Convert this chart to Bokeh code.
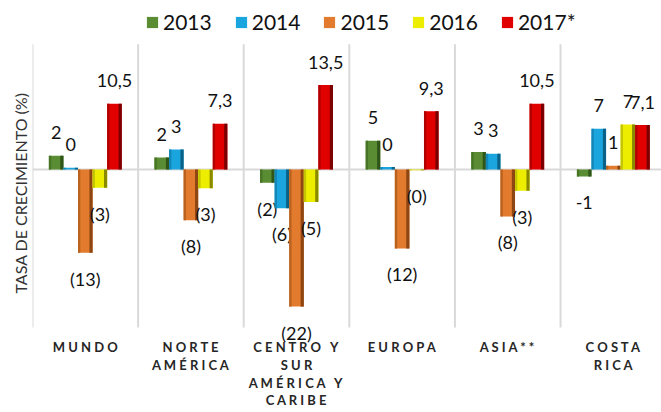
import numpy as np
from bokeh.plotting import figure
from bokeh.models import ColumnDataSource, Range1d, Legend, LegendItem, Span, Title
from bokeh.transform import dodge
from bokeh.core.properties import value
from bokeh.embed import file_html
from bokeh.resources import INLINE

# ---------------- data ----------------
categories = ["MUNDO", "NORTE AMÉRICA", "CENTRO Y SUR AMÉRICA Y CARIBE", "EUROPA", "ASIA**", "COSTA RICA"]
tick_labels = [
    "M U N D O",
    "N O R T E\nA M É R I C A",
    "C E N T R O \u00a0 Y\nS U R\nA M É R I C A \u00a0 Y\nC A R I B E",
    "E U R O P A",
    "A S I A * *",
    "C O S T A\nR I C A",
]
years = ["2013", "2014", "2015", "2016", "2017*"]

v2013 = [2.2, 1.9, -2.1, 4.6, 2.8, -1.1]
v2014 = [0.3, 3.2, -6.2, 0.4, 2.5, 6.5]
v2015 = [-13.3, -8.1, -21.9, -12.6, -7.5, 0.6]
v2016 = [-2.9, -3.0, -5.2, -0.1, -3.4, 7.2]
v2017 = [10.5, 7.3, 13.5, 9.3, 10.5, 7.1]

l2013 = ["2", "2", "(2)", "5", "3", "-1"]
l2014 = ["0", "3", "(6)", "0", "3", "7"]
l2015 = ["(13)", "(8)", "(22)", "(12)", "(8)", "1"]
l2016 = ["(3)", "(3)", "(5)", "(0)", "(3)", "7"]
l2017 = ["10,5", "7,3", "13,5", "9,3", "10,5", "7,1"]

series_values = [v2013, v2014, v2015, v2016, v2017]
series_labels = [l2013, l2014, l2015, l2016, l2017]

colors = ["#5A8C34", "#1AA5DE", "#E27B2E", "#EDED00", "#E10000"]
dark_colors = ["#2F5519", "#0B6288", "#8E4612", "#8A8A00", "#7A0000"]
mid_colors = ["#477526", "#1387B8", "#B9621F", "#C4C400", "#B00000"]

FONT = "Lato"
Y_TOP = 27.0       # top of the plotting frame
Y_BOTTOM = -38.82  # bottom of the plotting frame
GRID_TOP = 20.0
GRID_BOTTOM = -25.24

# ---------------- figure ----------------
idx = np.arange(len(categories))
p = figure(width=661, height=412,
           x_range=Range1d(-0.5, 5.456), y_range=Range1d(Y_BOTTOM, Y_TOP),
           output_backend="svg", toolbar_location=None, title=None,
           x_axis_location=None, y_axis_location=None,
           min_border_left=32, min_border_right=0, min_border_top=0, min_border_bottom=0)
p.outline_line_color = None
p.xgrid.visible = False
p.ygrid.visible = False
p.background_fill_color = "white"
p.border_fill_color = "white"

# category separators
bounds = np.append(idx - 0.5, idx[-1] + 0.5)
p.segment(x0=bounds, y0=GRID_BOTTOM, x1=bounds, y1=GRID_TOP, line_color="#D9D9D9", line_width=2)
p.add_layout(Span(location=0, dimension="width", line_color="#D9D9D9", line_width=2, level="underlay"))

bw = 0.138
strip_l = 0.022
strip_r = 0.03
items = []
for i, (yr, vals, labs) in enumerate(zip(years, series_values, series_labels)):
    off = (i - 2) * bw
    vals = np.array(vals)
    src = ColumnDataSource(dict(
        x=idx, v=vals, lab=labs,
        yoff=np.where(vals >= 0, -23, 26),
    ))
    r = p.vbar(x=dodge("x", off), top="v", bottom=0, width=bw,
               fill_color=colors[i], line_color=None, source=src)
    p.vbar(x=dodge("x", off - bw / 2 + strip_l / 2), top="v", bottom=0, width=strip_l,
           fill_color=mid_colors[i], line_color=None, source=src)
    p.vbar(x=dodge("x", off + bw / 2 - strip_r / 2), top="v", bottom=0, width=strip_r,
           fill_color=dark_colors[i], line_color=None, source=src)
    p.text(x=dodge("x", off), y="v", text="lab", y_offset="yoff", source=src,
           text_align="center", text_baseline="middle",
           text_font=value(FONT), text_font_size="18px", text_color="#111111")
    items.append(LegendItem(label=yr, renderers=[r]))

# category labels below the grid
cat_src = ColumnDataSource(dict(x=idx, lab=tick_labels))
p.text(x="x", y=GRID_BOTTOM, text="lab", source=cat_src, y_offset=12,
       text_align="center", text_baseline="top", text_line_height=1.1,
       text_font=value(FONT), text_font_style="bold", text_font_size="13px",
       text_color="#262626")

legend = Legend(items=items, orientation="horizontal", location=(113, 378),
                glyph_width=14, glyph_height=14, label_standoff=4, spacing=22,
                padding=0, margin=0, border_line_color=None, background_fill_alpha=0,
                label_text_font=FONT, label_text_font_size="21px", label_text_color="#111111")
p.add_layout(legend)

p.add_layout(Title(text="TASA DE CRECIMIENTO (%)", align="left", offset=119, standoff=5,
                   text_font=FONT, text_font_size="16px", text_font_style="normal",
                   text_color="#333333"), "left")

open("out.html", "w").write(file_html(p, INLINE))
